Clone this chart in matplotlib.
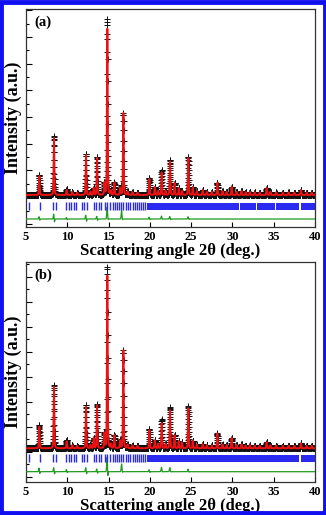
import numpy as np
import matplotlib
matplotlib.use("Agg")
import matplotlib.pyplot as plt
from matplotlib.patches import Rectangle
from matplotlib.ticker import MultipleLocator

plt.rcParams['font.family'] = ['Liberation Serif', 'DejaVu Serif']
plt.rcParams['font.weight'] = 'bold'

# ---------------- data ----------------
x_ticks = [5, 10, 15, 20, 25, 30, 35, 40]
x_label = "Scattering angle 2θ (deg.)"
y_label = "Intensity (a.u.)"
panel_labels = ["(a)", "(b)"]

# Bragg reflection positions (sparse region) and dense bands
bragg_pos = [5.4, 6.65, 8.3, 8.6, 9.9, 10.2, 10.5, 10.8, 11.1, 11.75, 12.05, 12.35,
             13.2, 13.5, 13.85, 14.1, 14.55, 14.85, 15.2, 15.55, 15.75, 16.0, 16.3,
             16.55, 16.8, 17.1, 17.4, 17.65, 17.9, 18.2, 18.45, 18.7, 18.95, 19.2, 19.45]
bragg_bands_a = [(19.6, 30.75), (30.9, 32.8), (32.95, 35.15), (35.3, 38.1), (38.25, 40.0)]
bragg_bands_b = [(19.6, 38.1), (38.25, 40.0)]

# peak positions (2theta) shared by both panels
peak_pos = [6.61, 8.39, 9.93, 10.6, 11.2, 12.27, 12.8, 13.2, 13.6, 14.5, 14.85, 15.3,
            15.7, 16.4, 16.79, 17.3, 17.9, 18.5, 19.94, 20.6, 21.0, 21.43, 21.9, 22.44,
            23.0, 23.5, 23.9, 24.66, 25.2, 25.7, 26.4, 26.9, 27.5, 28.17, 28.8, 29.3,
            29.9, 30.5, 31.1, 31.6, 32.1, 32.7, 33.3, 34.14, 34.6, 35.3, 36.1, 36.8,
            37.5, 38.3, 39.0, 39.6]

# calculated peak heights above background (counts)
height_a = [712, 2135, 190, 110, 90, 1500, 120, 260, 1390, 450, 6220, 150,
            460, 260, 3070, 130, 100, 90, 600, 300, 150, 840, 160, 1250,
            450, 260, 150, 1380, 300, 140, 190, 120, 110, 460, 140, 120,
            300, 120, 150, 100, 110, 100, 90, 260, 120, 100, 90, 100,
            90, 190, 90, 90]
height_b = [860, 2460, 280, 120, 100, 1660, 140, 400, 1720, 600, 6900, 160,
            520, 300, 3920, 140, 110, 100, 720, 320, 180, 1000, 180, 1520,
            520, 280, 240, 1600, 300, 150, 170, 130, 120, 600, 150, 130,
            420, 130, 160, 110, 120, 110, 100, 240, 120, 110, 100, 110,
            100, 200, 100, 100]

# residuals (obs - calc) near main peaks: symmetric part and wiggle part
resid_pos = [6.61, 8.39, 9.93, 12.27, 13.6, 14.85, 16.6, 19.94, 21.43, 22.44, 24.66]
resid_up_a = [40, 60, 20, 50, 40, 380, 260, 40, 90, 60, 60]
resid_wig_a = [60, 140, 40, 110, 70, 150, 120, 40, 40, 50, 40]
resid_up_b = [60, 60, 40, 60, 40, 360, 250, 40, 150, 130, 70]
resid_wig_b = [100, 120, 60, 120, 80, 330, 120, 50, 60, 60, 50]

background = [1082, 1136]      # flat background level per panel
diff_offset = [183, 200]       # baseline of the difference curve
bragg_level = [670, 736]       # vertical position of reflection ticks
ylims = [(-116, 8048), (-200, 8576)]

# ---------------- model ----------------
tt = np.arange(5.0, 40.0001, 0.01)


def profile(x, x0, h, w=0.045, eta=0.3):
    g = np.exp(-0.5 * ((x - x0) / w) ** 2)
    lw = w * 1.1775
    l = 1.0 / (1.0 + ((x - x0) / lw) ** 2)
    return h * ((1 - eta) * g + eta * l)


def calc_pattern(bg, heights):
    y = np.full_like(tt, bg, dtype=float)
    for p, h in zip(peak_pos, heights):
        y += profile(tt, p, h)
    return y


def residual(ups, wigs):
    r = np.zeros_like(tt)
    for p, u, wg in zip(resid_pos, ups, wigs):
        s = 0.05
        z = (tt - p) / s
        r += u * np.exp(-0.5 * z ** 2)
        r += wg * (-z) * np.exp(-0.5 * z ** 2) * np.exp(0.5)
    return r


fig = plt.figure(figsize=(3.26, 5.15), dpi=100)
fig.patches.append(Rectangle((0.004, 0.003), 0.992, 0.994, transform=fig.transFigure,
                             fill=False, edgecolor='#1010f0', linewidth=3.5))

axes_rects = [[26 / 326, (515 - 227) / 515, 289 / 326, 218 / 515],
              [26 / 326, (515 - 481.7) / 515, 289 / 326, 219.4 / 515]]
heights = [height_a, height_b]
ups = [resid_up_a, resid_up_b]
wigs = [resid_wig_a, resid_wig_b]
bands = [bragg_bands_a, bragg_bands_b]

for i in range(2):
    ax = fig.add_axes(axes_rects[i])
    calc = calc_pattern(background[i], heights[i])
    res = residual(ups[i], wigs[i])
    obs = calc + res
    ax.plot(tt, obs, linestyle='none', marker='+', color='#111111', markersize=4.8,
            markeredgewidth=0.7, zorder=2)
    ax.plot(tt, calc, color='#ee1111', linewidth=1.4, zorder=3)
    ax.plot(tt, diff_offset[i] + res, color='#1f9a1f', linewidth=0.9, zorder=3)
    # bragg ticks
    ax.plot(bragg_pos, [bragg_level[i]] * len(bragg_pos), linestyle='none', marker='|',
            color='#2a2af0', markersize=5.2, markeredgewidth=1.0, zorder=3)
    yr = ylims[i][1] - ylims[i][0]
    hpx = axes_rects[i][3] * 515
    half = 3.5 / hpx * yr
    ax.broken_barh([(a, b - a) for a, b in bands[i]], (bragg_level[i] - half, 2 * half),
                   facecolors='#2a2af0', zorder=3)

    ax.set_xlim(5, 40)
    ax.set_ylim(*ylims[i])
    ax.set_xticks(x_ticks)
    ax.set_xticklabels([str(v) for v in x_ticks], fontsize=9, fontweight='bold')
    ax.yaxis.set_major_locator(MultipleLocator(1000))
    ax.yaxis.set_minor_locator(MultipleLocator(500))
    ax.set_yticklabels([])
    ax.tick_params(axis='y', which='major', direction='in', length=4.5, width=0.8, left=True, right=False)
    ax.tick_params(axis='y', which='minor', direction='in', length=2.5, width=0.8, left=True, right=False)
    ax.tick_params(axis='x', which='major', direction='in', length=3.5, width=0.8, pad=3)
    for sp in ax.spines.values():
        sp.set_linewidth(0.9)
        sp.set_color('#333333')
    ax.set_xlabel(x_label, fontsize=12, fontweight='bold', labelpad=0)
    ax.set_ylabel(y_label, fontsize=13, fontweight='bold', labelpad=0)
    ax.yaxis.set_label_coords(-4 / 289, 0.5)
    ax.text(0.03, 0.97, panel_labels[i], transform=ax.transAxes, fontsize=10.5,
            fontweight='bold', va='top', ha='left')

fig.savefig("out.png", dpi=100)
